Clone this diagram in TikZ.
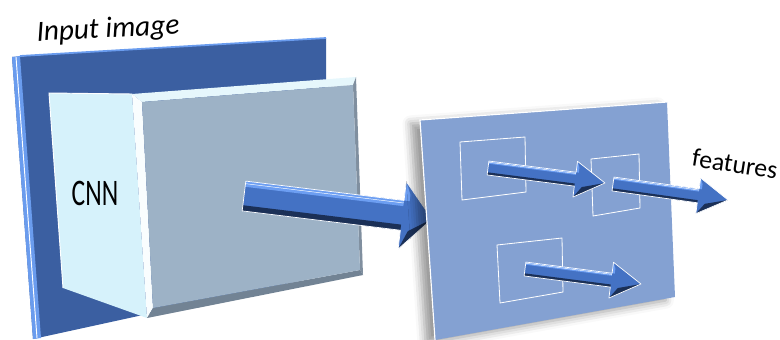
\documentclass[tikz,border=0pt]{standalone}
\usepackage{fontspec}
\newfontfamily\calibri{Carlito}
\usetikzlibrary{calc, shadows.blur}
\definecolor{deepblue}{HTML}{3B5FA1}
\definecolor{edgeblue}{HTML}{6A9CEE}
\definecolor{plateblue}{HTML}{84A1D2}
\definecolor{cubeside}{HTML}{D6F2FB}
\definecolor{cubefront}{HTML}{9DB2C6}
\definecolor{cubetop}{HTML}{E6F7FC}
\definecolor{cubedark}{HTML}{728394}
\definecolor{arrmid}{HTML}{4472C4}
\definecolor{arrlight}{HTML}{6C9EF2}
\definecolor{arrdark}{HTML}{1B3057}
\tikzset{
  lbl/.style  ={font=\calibri, text=black, inner sep=0pt},
  frame/.style={draw=white, line width=0.7pt},
  rim/.style  ={draw=white, line width=0.6pt, line join=round}
}

% 3d arrow: start, end, half shaft, half head, head length (px)
\newcommand{\bevelarrow}[5]{%
  \path (#1); \pgfgetlastxy{\ax}{\ay}
  \path (#2); \pgfgetlastxy{\bx}{\by}
  \pgfmathsetmacro\arrang{atan2(\by-\ay,\bx-\ax)}
  \pgfmathsetmacro\arrlen{veclen(\bx-\ax,\by-\ay)/0.853584}
  \begin{scope}[shift={(#1)}, rotate=\arrang, x=0.03cm, y=0.03cm]
    \pgfmathsetmacro\hb{\arrlen-#5}
    \pgfmathsetmacro\bv{0.38*#3}
    \fill[arrmid] (0,-#3) -- (\hb,-#3) -- (\hb,-#4) -- (\arrlen,0) -- (\hb,#4) -- (\hb,#3) -- (0,#3) -- cycle;
    \fill[arrlight] (0,#3) -- (\hb,#3) -- (\hb,#3-\bv) -- (0,#3-\bv) -- cycle;
    \fill[arrdark] (0,-#3) -- (\hb,-#3) -- (\hb,-#3+\bv) -- (0,-#3+\bv) -- cycle;
    \fill[arrlight] (\hb,#3) -- (\hb,#4) -- (\hb+\bv,#4-2.2*\bv) -- (\hb+\bv,#3) -- cycle;
    \fill[arrdark] (\hb,-#4) -- (\arrlen,0) -- (\hb+0.25*#5,-#3) -- cycle;
    \draw[white, line width=0.4pt] (0,#3-0.45*\bv) -- (\hb,#3-0.45*\bv);
    \draw[rim] (0,-#3) -- (\hb,-#3) -- (\hb,-#4) -- (\arrlen,0) -- (\hb,#4) -- (\hb,#3) -- (0,#3) -- cycle;
  \end{scope}}

\begin{document}
\begin{tikzpicture}[x=0.03cm, y=-0.03cm]
  \useasboundingbox (0,0) rectangle (780,340);

  % input image plate
  \fill[deepblue] (12,57) -- (326,38) -- (326,275) -- (33,339) -- cycle;
  \fill[edgeblue] (12,57) -- (20,56) -- (41,338) -- (33,339) -- cycle;
  \draw[white, line width=0.8pt] (16,57) -- (37,338);
  \draw[edgeblue, line width=1.5pt] (20,56) -- (326,38);

  % CNN block
  \fill[cubeside] (49,93) -- (132,94) -- (147,318) -- (63,288) -- cycle;
  \draw[white, line width=0.8pt] (63,288) -- (49,93) -- (132,94);
  \fill[cubetop]  (132,94) -- (356,77) -- (353,85) -- (142,102) -- cycle;
  \fill[white!85!cubeside] (132,94) -- (142,102) -- (153,308) -- (147,318) -- cycle;
  \fill[cubedark!90!white] (356,77) -- (363,275) -- (360,270) -- (353,85) -- cycle;
  \fill[cubedark] (147,318) -- (153,308) -- (360,270) -- (363,275) -- cycle;
  \fill[cubefront] (142,102) -- (353,85) -- (360,270) -- (153,308) -- cycle;

  \coordinate (bigS) at (244,196);
  \coordinate (bigT) at (432,219);
  \bevelarrow{bigS}{bigT}{15}{34}{30}

  % feature map plate
  \fill[plateblue, blur shadow={shadow xshift=-8pt, shadow yshift=-3pt, shadow blur radius=7pt}]
    (420,120) -- (667,102) -- (675,297) -- (435,340) -- cycle;
  \draw[white, line width=1pt] (435,340) -- (420,120) -- (667,102);

  \draw[frame] (460,142) -- (525,137) -- (526,192) -- (462,200) -- cycle;
  \draw[frame] (591,159) -- (639,154) -- (640,208) -- (593,216) -- cycle;
  \draw[frame] (497,245) -- (562,238) -- (563,292) -- (500,303) -- cycle;

  \coordinate (a1S) at (488,168);
  \coordinate (a1T) at (605,183);
  \coordinate (a2S) at (613,184);
  \coordinate (a2T) at (728,200);
  \coordinate (a3S) at (525,269);
  \coordinate (a3T) at (641,284);
  \bevelarrow{a1S}{a1T}{7}{18}{30}
  \bevelarrow{a2S}{a2T}{7}{18}{30}
  \bevelarrow{a3S}{a3T}{7}{18}{30}

  % labels
  \node[lbl, rotate=3, font=\calibri\itshape\fontsize{25}{25}\selectfont] (inlbl) at (108,30) {Input image};
  \node[lbl, xscale=0.68, font=\calibri\fontsize{32}{32}\selectfont] (cnnlbl) at (95,193) {CNN};
  \node[lbl, rotate=-9, font=\calibri\fontsize{22}{22}\selectfont] (featlbl) at (735,164) {features};
\end{tikzpicture}
\end{document}
